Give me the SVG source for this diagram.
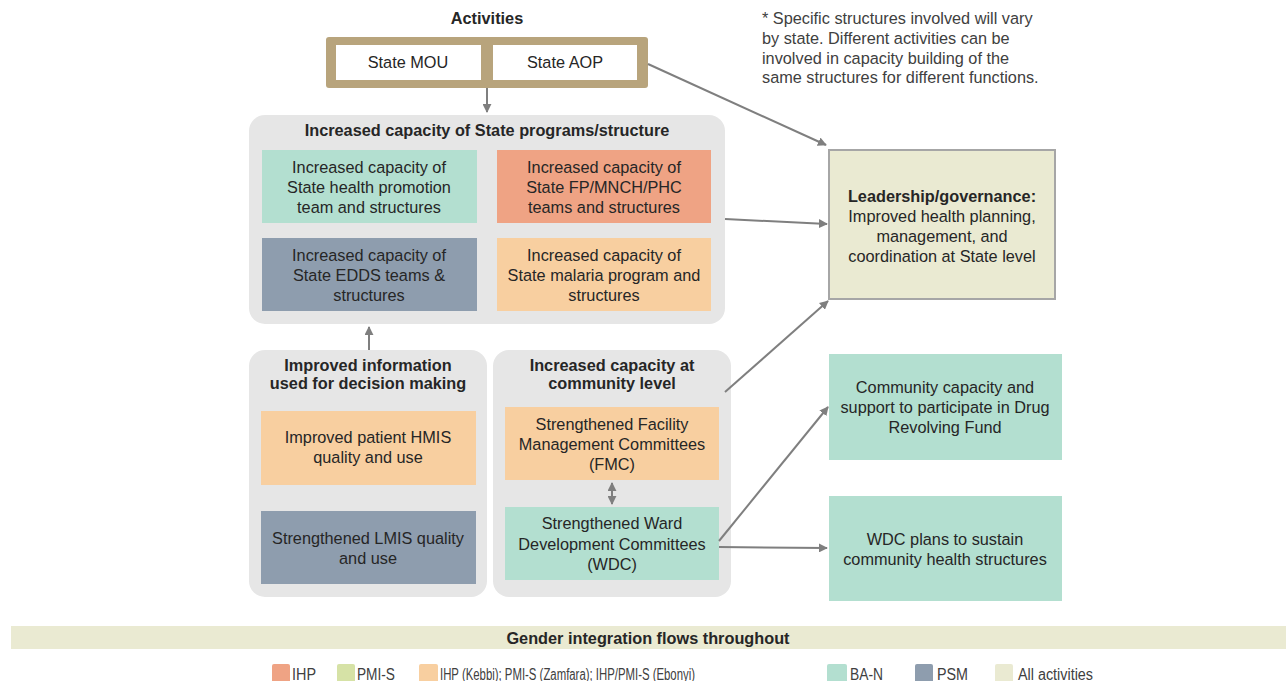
<svg xmlns="http://www.w3.org/2000/svg" width="1286" height="681" viewBox="0 0 1286 681">
<style>
text{font-family:"Liberation Sans",Arial,sans-serif;font-size:16.3px;fill:#262626;text-anchor:middle}
.b{font-weight:bold}
.t{font-weight:bold}
.note{text-anchor:start;fill:#404040}
.leg{text-anchor:start;font-size:16px;fill:#404040}
.cont{fill:#E6E6E6}
.teal{fill:#B3DFD0}
.sal{fill:#EFA384}
.slate{fill:#8E9DAE}
.peach{fill:#F8CFA0}
.cream{fill:#EAEAD2}
.green{fill:#D6E2A6}
.conn{stroke:#7F7F7F;stroke-width:2;fill:none}
</style>
<defs>
<marker id="ah" viewBox="0 0 10 10" refX="9" refY="5" markerWidth="4.5" markerHeight="4.5" orient="auto-start-reverse" markerUnits="strokeWidth">
<path d="M0,0L10,5L0,10z" fill="#7F7F7F"/>
</marker>
</defs>
<rect x="0" y="0" width="1286" height="681" fill="#FFFFFF"/>

<g id="activities">
<text class="b" x="487" y="24">Activities</text>
<rect x="326" y="37" width="322" height="51" rx="3" fill="#B8A47C"/>
<rect x="336" y="45" width="145" height="35" fill="#FFFFFF"/>
<rect x="493" y="45" width="144" height="35" fill="#FFFFFF"/>
<text x="408" y="68">State MOU</text>
<text x="565" y="68">State AOP</text>
</g>

<g id="note">
<text class="note" x="762" y="24">* Specific structures involved will vary</text>
<text class="note" x="762" y="44">by state. Different activities can be</text>
<text class="note" x="762" y="64">involved in capacity building of the</text>
<text class="note" x="762" y="83">same structures for different functions.</text>
</g>

<g id="state-programs">
<rect class="cont" x="249" y="115" width="476" height="209" rx="16"/>
<text class="t" x="487" y="136">Increased capacity of State programs/structure</text>
</g>
<g id="health-promotion">
<rect class="teal" x="262" y="150" width="215" height="73"/>
<text x="369" y="173">Increased capacity of</text>
<text x="369" y="193">State health promotion</text>
<text x="369" y="213">team and structures</text>
</g>
<g id="fp-mnch">
<rect class="sal" x="497" y="150" width="214" height="73"/>
<text x="604" y="173">Increased capacity of</text>
<text x="604" y="193">State FP/MNCH/PHC</text>
<text x="604" y="213">teams and structures</text>
</g>
<g id="edds">
<rect class="slate" x="262" y="238" width="215" height="73"/>
<text x="369" y="261">Increased capacity of</text>
<text x="369" y="281">State EDDS teams &amp;</text>
<text x="369" y="301">structures</text>
</g>
<g id="malaria">
<rect class="peach" x="497" y="238" width="214" height="73"/>
<text x="604" y="261">Increased capacity of</text>
<text x="604" y="281">State malaria program and</text>
<text x="604" y="301">structures</text>
</g>

<g id="info">
<rect class="cont" x="249" y="350" width="238" height="247" rx="16"/>
<text class="t" x="368" y="371">Improved information</text>
<text class="t" x="368" y="389">used for decision making</text>
</g>
<g id="hmis">
<rect class="peach" x="261" y="411" width="215" height="74"/>
<text x="368" y="443">Improved patient HMIS</text>
<text x="368" y="463">quality and use</text>
</g>
<g id="lmis">
<rect class="slate" x="261" y="511" width="215" height="73"/>
<text x="368" y="544">Strengthened LMIS quality</text>
<text x="368" y="564">and use</text>
</g>

<g id="community">
<rect class="cont" x="493" y="350" width="238" height="247" rx="16"/>
<text class="t" x="612" y="371">Increased capacity at</text>
<text class="t" x="612" y="389">community level</text>
</g>
<g id="fmc">
<rect class="peach" x="505" y="407" width="214" height="73"/>
<text x="612" y="430">Strengthened Facility</text>
<text x="612" y="450">Management Committees</text>
<text x="612" y="470">(FMC)</text>
</g>
<g id="wdc">
<rect class="teal" x="505" y="507" width="214" height="73"/>
<text x="612" y="529">Strengthened Ward</text>
<text x="612" y="550">Development Committees</text>
<text x="612" y="570">(WDC)</text>
</g>

<g id="leadership">
<rect class="cream" x="829" y="150" width="226" height="149" stroke="#A6A6A6" stroke-width="2"/>
<text class="b" x="942" y="202">Leadership/governance:</text>
<text x="942" y="222">Improved health planning,</text>
<text x="942" y="242">management, and</text>
<text x="942" y="262">coordination at State level</text>
</g>
<g id="drf">
<rect class="teal" x="829" y="354" width="233" height="106"/>
<text x="945" y="393">Community capacity and</text>
<text x="945" y="413">support to participate in Drug</text>
<text x="945" y="433">Revolving Fund</text>
</g>
<g id="wdc-plans">
<rect class="teal" x="829" y="496" width="233" height="105"/>
<text x="945" y="545">WDC plans to sustain</text>
<text x="945" y="565">community health structures</text>
</g>

<g id="connectors">
<line class="conn" x1="487" y1="88" x2="487" y2="112" marker-end="url(#ah)"/>
<line class="conn" x1="369" y1="350" x2="369" y2="327" marker-end="url(#ah)"/>
<line class="conn" x1="648" y1="64" x2="826" y2="145" marker-end="url(#ah)"/>
<line class="conn" x1="725" y1="219" x2="827" y2="224" marker-end="url(#ah)"/>
<line class="conn" x1="725" y1="392" x2="828" y2="301" marker-end="url(#ah)"/>
<line class="conn" x1="719" y1="541" x2="828" y2="407" marker-end="url(#ah)"/>
<line class="conn" x1="719" y1="547" x2="827" y2="548" marker-end="url(#ah)"/>
<line class="conn" x1="612" y1="483" x2="612" y2="504" marker-start="url(#ah)" marker-end="url(#ah)"/>
</g>

<g id="gender">
<rect class="cream" x="11" y="626" width="1275" height="23"/>
<text class="b" x="648" y="644">Gender integration flows throughout</text>
</g>

<g id="legend">
<rect class="sal" x="272" y="664" width="18" height="20" rx="2"/>
<text class="leg" x="292" y="680" textLength="24" lengthAdjust="spacingAndGlyphs">IHP</text>
<rect class="green" x="337" y="664" width="18" height="20" rx="2"/>
<text class="leg" x="357" y="680" textLength="38" lengthAdjust="spacingAndGlyphs">PMI-S</text>
<rect class="peach" x="419" y="664" width="19" height="20" rx="2"/>
<text class="leg" x="440" y="680" textLength="255" lengthAdjust="spacingAndGlyphs">IHP (Kebbi); PMI-S (Zamfara); IHP/PMI-S (Ebonyi)</text>
<rect class="teal" x="827" y="664" width="20" height="20" rx="2"/>
<text class="leg" x="850" y="680" textLength="33" lengthAdjust="spacingAndGlyphs">BA-N</text>
<rect class="slate" x="915" y="664" width="18" height="20" rx="2"/>
<text class="leg" x="937" y="680" textLength="31" lengthAdjust="spacingAndGlyphs">PSM</text>
<rect class="cream" x="995" y="664" width="18" height="20" rx="2"/>
<text class="leg" x="1018" y="680" textLength="75" lengthAdjust="spacingAndGlyphs">All activities</text>
</g>
</svg>
